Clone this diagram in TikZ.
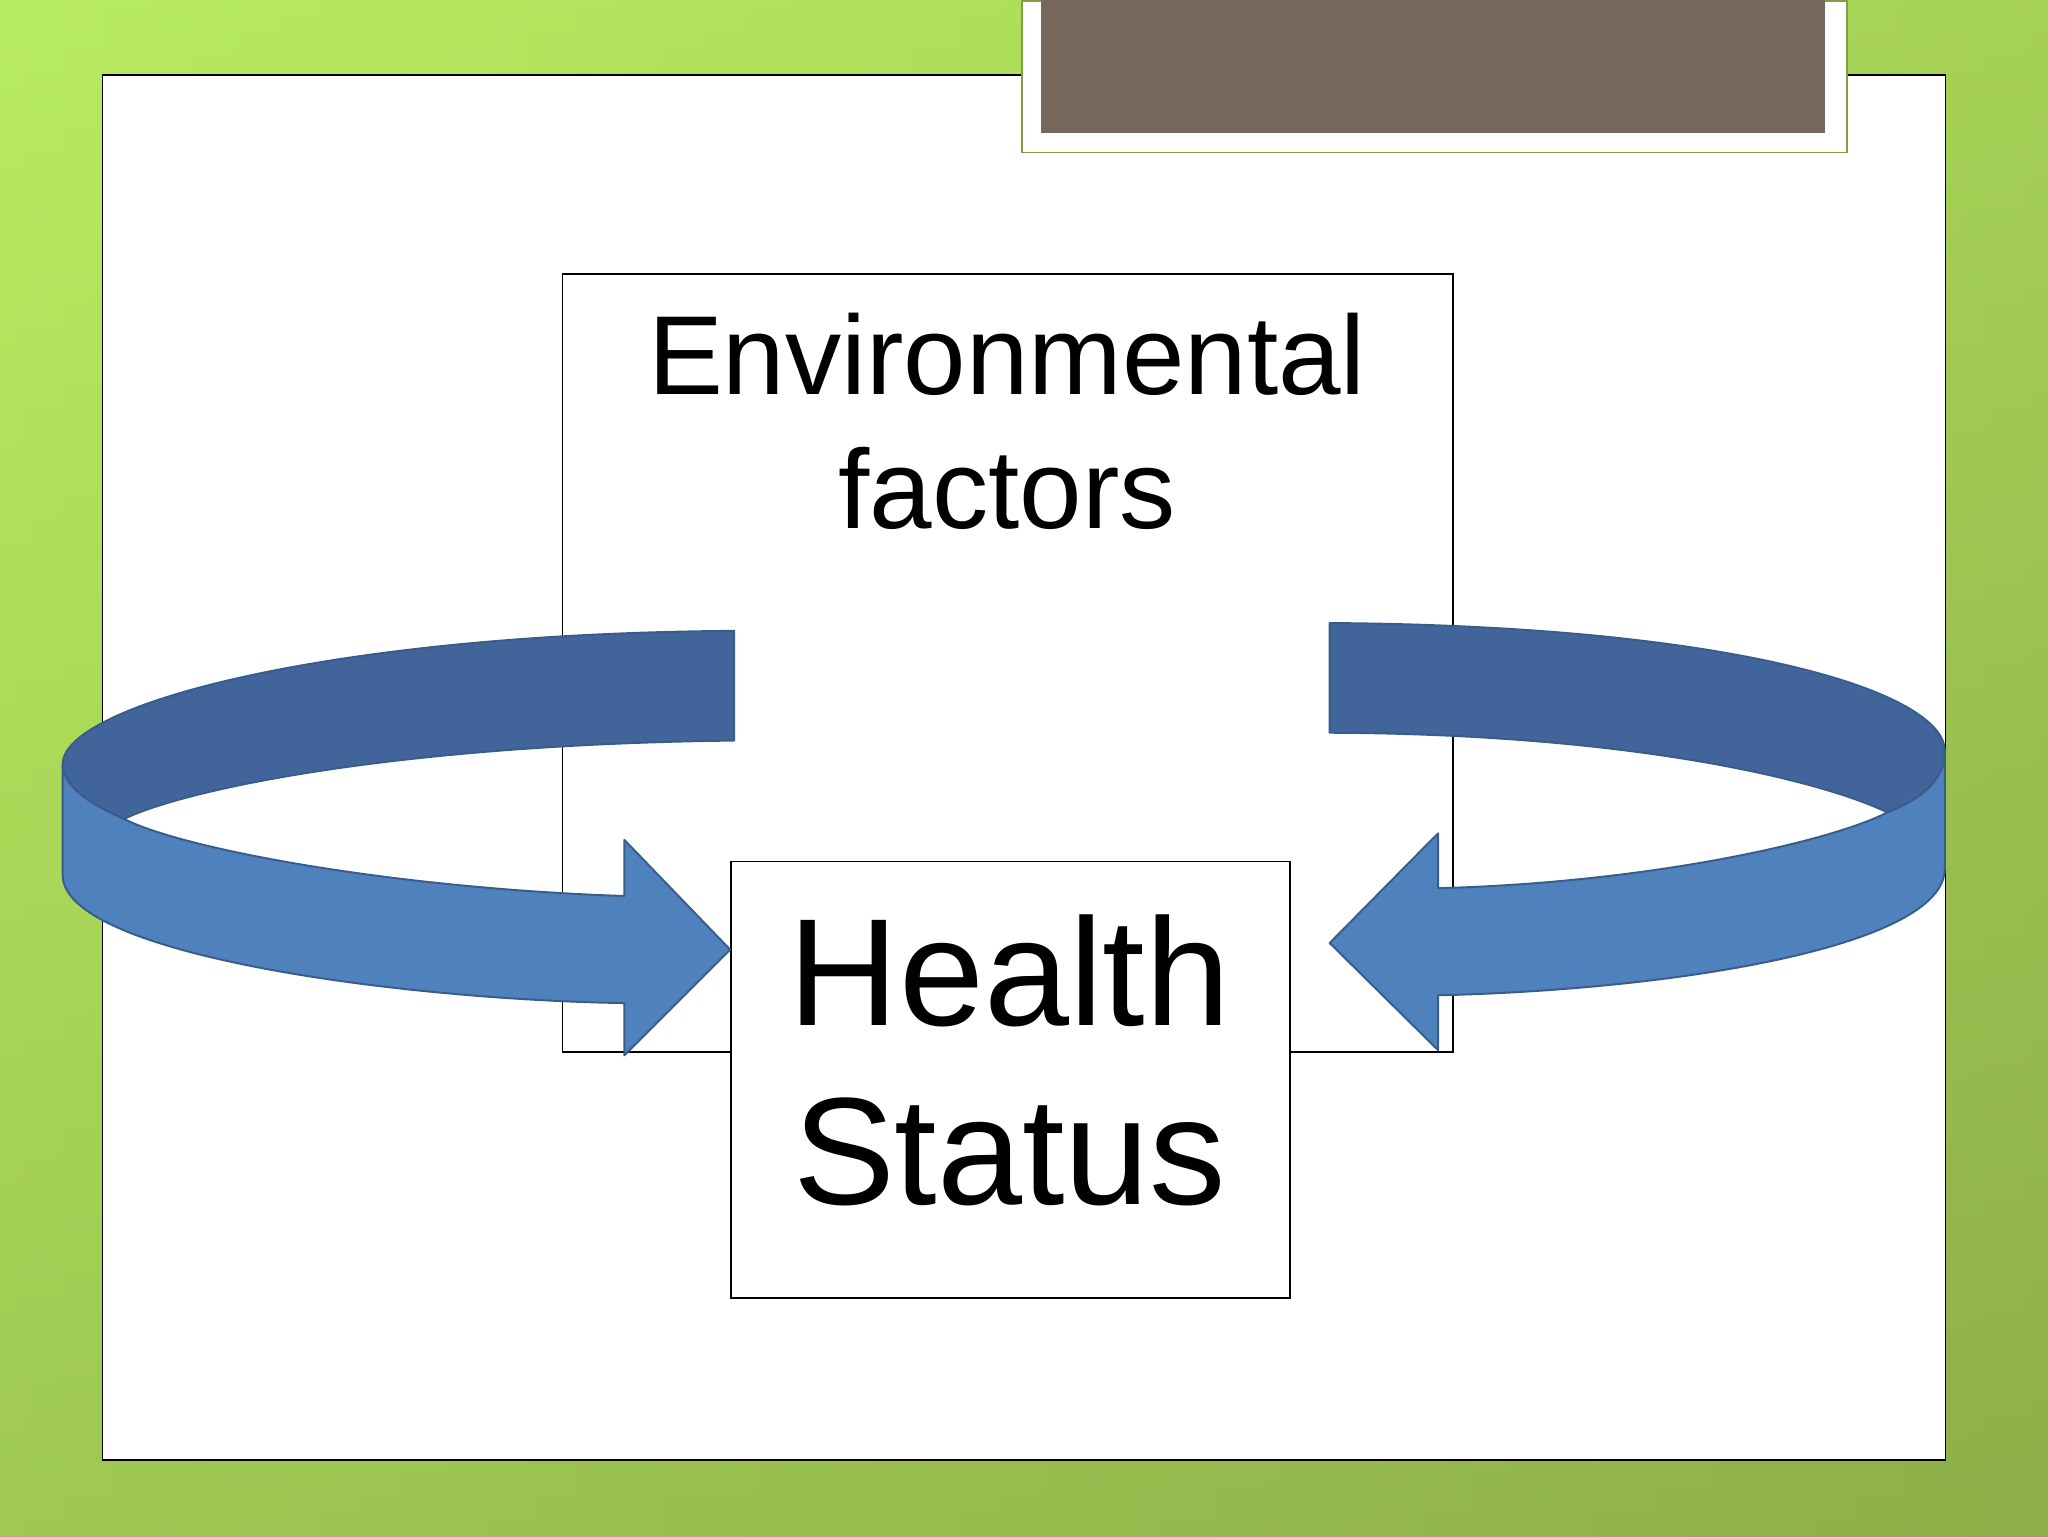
\documentclass[tikz,border=0pt]{standalone}
\usepackage{fontspec}
\setmainfont{Liberation Sans}
\definecolor{back}{HTML}{41659A}
\definecolor{front}{HTML}{4F81BD}
\definecolor{edge}{HTML}{385D8A}
\definecolor{brown}{HTML}{75685A}
\definecolor{lime}{HTML}{B8EC60}
\definecolor{olive}{HTML}{8FB04A}
\begin{document}
\begin{tikzpicture}[x=1bp,y=-1bp,
  box/.style={draw=black,line width=1.2bp,fill=white},
  band/.style={draw=edge,line width=1.5bp,line join=round}]
\useasboundingbox (0,0) rectangle (1568,1176);
\shade[left color=lime,right color=olive!80!lime] (0,0) rectangle (1568,1176);
\shade[top color=lime,bottom color=olive!90!black,opacity=0.45] (0,0) rectangle (1568,1176);
\node[box,minimum width=1411bp,minimum height=1060bp,anchor=north west,inner sep=0] (frame) at (78,57) {};
\node[draw=olive!90!black,line width=1.5bp,fill=white,minimum width=631bp,minimum height=116bp,anchor=north west,inner sep=0] (tab) at (782,0) {};
\node[fill=brown,minimum width=600bp,minimum height=102bp,anchor=north west,inner sep=0] (tabin) at (797,0) {};
\node[box,minimum width=682bp,minimum height=596bp,anchor=north west,inner sep=0] (env) at (430,209) {};
\node[align=center,font=\fontsize{86bp}{103bp}\selectfont,anchor=base] (envt) at (771,405) {Environmental\\factors};
\node[box,minimum width=428bp,minimum height=334bp,anchor=north west,inner sep=0] (hs) at (559,659) {};
\node[align=center,font=\fontsize{117bp}{137bp}\selectfont,anchor=base] (hst) at (773,922) {Health\\Status};
% left arrow
\draw[band,fill=back] (562,483) .. controls (250,485) and (48,540) .. (48,585)
  .. controls (48,598) and (60,612) .. (95,627)
  .. controls (140,605) and (300,570) .. (562,567) -- cycle;
\draw[band,fill=front] (48,585) -- (48,670) .. controls (48,730) and (300,765) .. (478,768)
  -- (478,808) -- (559,727) -- (478,643) -- (478,686)
  .. controls (300,680) and (140,650) .. (95,627)
  .. controls (60,612) and (48,598) .. (48,585) -- cycle;
% right arrow
\draw[band,fill=back] (1018,477) .. controls (1330,479) and (1489,530) .. (1489,575)
  .. controls (1489,595) and (1475,610) .. (1445,622)
  .. controls (1400,600) and (1260,562) .. (1018,561) -- cycle;
\draw[band,fill=front] (1489,575) -- (1489,665) .. controls (1489,725) and (1280,758) .. (1101,762)
  -- (1101,804) -- (1018,722) -- (1101,638) -- (1101,680)
  .. controls (1260,676) and (1400,645) .. (1445,622)
  .. controls (1475,610) and (1489,595) .. (1489,575) -- cycle;
\end{tikzpicture}
\end{document}
